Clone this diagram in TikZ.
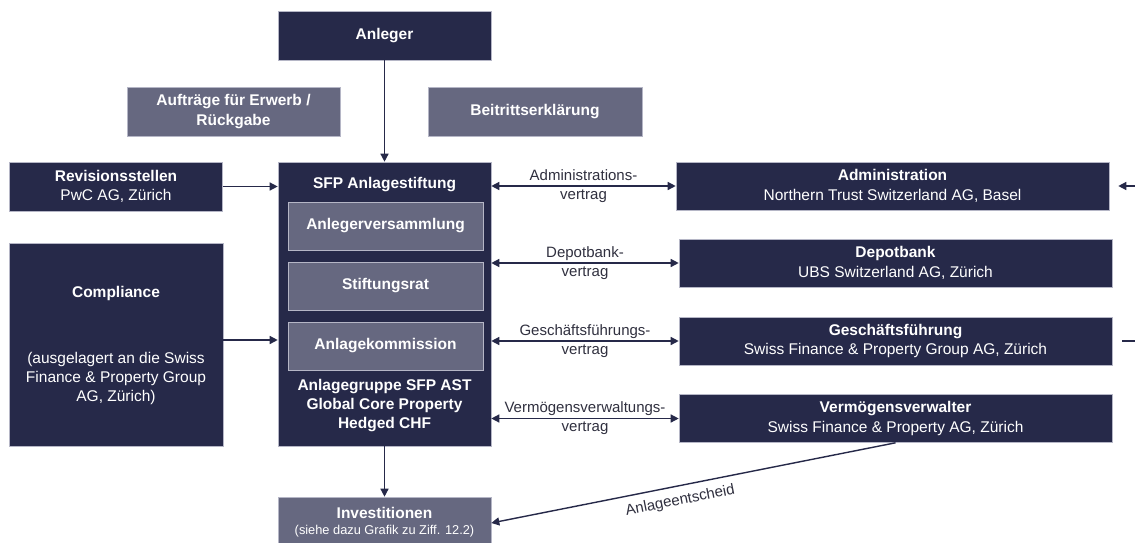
\documentclass[tikz,border=0pt]{standalone}
\usepackage{fontspec}
\setmainfont{Liberation Sans}
\usetikzlibrary{arrows.meta}
\definecolor{navy}{HTML}{262949}
\definecolor{slate}{HTML}{666880}
\definecolor{boxedge}{HTML}{B5B6C6}
\definecolor{lbl}{HTML}{30303F}
\begin{document}
\begin{tikzpicture}[x=1pt,y=-1pt,
  basebox/.style={draw=boxedge, line width=0.6pt, text=white, inner sep=0pt, align=center,
    font=\fontsize{15.5}{19.5}\selectfont},
  dbox/.style={basebox, fill=navy},
  lbox/.style={basebox, fill=slate},
  wide/.style={minimum width=213pt, minimum height=49pt},
  rbox/.style={minimum width=433pt, minimum height=48pt},
  conn/.style={draw=navy, line width=1.4pt, -{Triangle[length=8pt,width=8pt]}},
  dconn/.style={draw=navy, line width=1.4pt, {Triangle[length=8pt,width=8pt]}-{Triangle[length=8pt,width=8pt]}},
  plain/.style={draw=navy, line width=1.4pt},
  lab/.style={text=lbl, align=center, font=\fontsize{15}{19}\selectfont},
  wt/.style={text=white, align=center, font=\bfseries\fontsize{15.5}{19}\selectfont}
]
\clip (0,0) rectangle (1135,543);
\fill[white] (0,0) rectangle (1135,543);

% top
\node[dbox, wide] (anl) at (384.5,35.5) {\textbf{Anleger}};
\node[lbox, wide] (auf) at (233.5,111.5) {\textbf{Aufträge für Erwerb /}\\\textbf{Rückgabe}};
\node[lbox, minimum width=214pt, minimum height=49pt] (bei) at (535,111.5) {\textbf{Beitrittserklärung}};

% left
\node[dbox, wide] (rev) at (116,186.5) {\textbf{Revisionsstellen}\\PwC AG, Zürich};
\node[dbox, minimum width=214pt, minimum height=203pt] (comp) at (116,344.5) {};
\node[wt] (compt) at (116,293) {Compliance};
\node[text=white, align=center, font=\fontsize{15.5}{19}\selectfont] (compd) at (116,378)
  {(ausgelagert an die Swiss\\Finance \& Property Group\\AG, Zürich)};

% center
\node[dbox, minimum width=213pt, minimum height=284pt] (sfp) at (384.5,304) {};
\node[wt] (sfpt) at (384.5,185) {SFP Anlagestiftung};
\node[lbox, minimum width=195pt, minimum height=48pt] (av) at (385.5,226) {\textbf{Anlegerversammlung}};
\node[lbox, minimum width=195pt, minimum height=48pt] (sr) at (385.5,286) {\textbf{Stiftungsrat}};
\node[lbox, minimum width=195pt, minimum height=48pt] (ak) at (385.5,346) {\textbf{Anlagekommission}};
\node[wt] (ag) at (384.5,406) {Anlagegruppe SFP AST\\Global Core Property\\Hedged CHF};
\node[lbox, minimum width=213pt, minimum height=50pt] (inv) at (384.5,522)
  {\textbf{Investitionen}\\[-3pt]{\fontsize{12.8}{14}\selectfont (siehe dazu Grafik zu Ziff. 12.2)}};

% right
\node[dbox, rbox] (adm) at (892.5,186) {\textbf{Administration}\\Northern Trust Switzerland AG, Basel};
\node[dbox, rbox] (dep) at (895.5,263) {\textbf{Depotbank}\\UBS Switzerland AG, Zürich};
\node[dbox, rbox] (gf) at (895.5,341) {\textbf{Geschäftsführung}\\Swiss Finance \& Property Group AG, Zürich};
\node[dbox, rbox] (vv) at (895.5,418.5) {\textbf{Vermögensverwalter}\\Swiss Finance \& Property AG, Zürich};

% connectors
\draw[conn] (anl.south) -- (sfp.north);
\draw[conn] (sfp.south) -- (inv.north);
\draw[conn] (rev.east) -- (sfp.west |- rev.east);
\coordinate (cy) at (0,340);
\draw[conn] (comp.east |- cy) -- (sfp.west |- cy);

\draw[dconn] (sfp.east |- adm.west) -- (adm.west) node[midway, lab] {Administrations-\\vertrag};
\draw[dconn] (sfp.east |- dep.west) -- (dep.west) node[midway, lab] {Depotbank-\\vertrag};
\draw[dconn] (sfp.east |- gf.west) -- (gf.west) node[midway, lab] {Geschäftsführungs-\\vertrag};
\draw[dconn] (sfp.east |- vv.west) -- (vv.west) node[midway, lab] {Vermögensverwaltungs-\\vertrag};

\draw[conn] (vv.south) -- ([yshift=-1pt]inv.east)
  node[pos=0.54, sloped, below=4pt, lab] {Anlageentscheid};

% cut-off connectors at the right edge
\coordinate (radm) at (1150,186);
\coordinate (rgf) at (1150,341);
\draw[conn, shorten >=9pt] (radm) -- (adm.east);
\draw[plain, shorten <=10pt] (gf.east) -- (rgf);
\end{tikzpicture}
\end{document}
